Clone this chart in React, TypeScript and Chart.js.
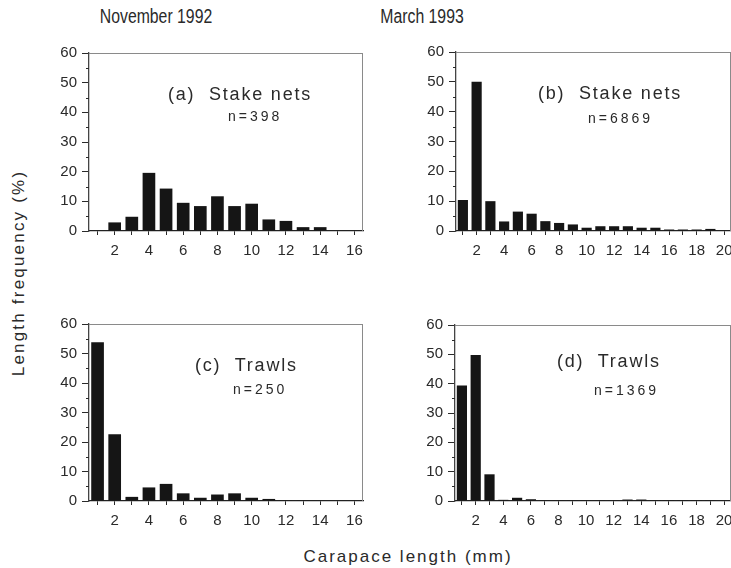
import React, { useEffect, useRef } from 'react';
import { Chart, registerables } from 'chart.js';

Chart.register(...registerables);

// ---------- data ----------
const novCategories = ['1', '2', '3', '4', '5', '6', '7', '8', '9', '10', '11', '12', '13', '14', '15', '16'];
const marCategories = ['1', '2', '3', '4', '5', '6', '7', '8', '9', '10', '11', '12', '13', '14', '15', '16', '17', '18', '19', '20'];

const novTickLabels = ['2', '4', '6', '8', '10', '12', '14', '16'];
const marTickLabels = ['2', '4', '6', '8', '10', '12', '14', '16', '18', '20'];

const novStakeNets = [0, 2.9, 4.8, 19.6, 14.3, 9.5, 8.4, 11.7, 8.4, 9.2, 3.9, 3.4, 1.3, 1.3, 0, 0];
const marStakeNets = [10.4, 50, 10, 3.2, 6.5, 5.8, 3.3, 2.7, 2.2, 1.1, 1.6, 1.6, 1.6, 1.1, 1.1, 0.5, 0.5, 0.5, 0.7, 0];
const novTrawls = [53.8, 22.6, 1.4, 4.6, 5.8, 2.6, 1.1, 2.2, 2.6, 1.1, 0.7, 0.2, 0.1, 0, 0, 0];
const marTrawls = [39.4, 49.8, 9.1, 0.4, 1.1, 0.6, 0.2, 0.2, 0.2, 0.2, 0.2, 0.2, 0.5, 0.5, 0.1, 0.1, 0.1, 0.1, 0.1, 0];

const yMajorTicks = [0, 10, 20, 30, 40, 50, 60];
const yMinorTicks = [5, 15, 25, 35, 45, 55];

const FONT = "'Liberation Sans', Arial, Helvetica, sans-serif";
const INK = '#2a2a2a';

type Area = { left: number; top: number; right: number; bottom: number };

const Y_W = 50;
const X_H = 34;
const PAD_T = 10;
const PAD_R = 16;

const framePlugin = {
  id: 'frame',
  afterDraw(chart: any) {
    const { ctx, chartArea } = chart;
    const { left, top, right, bottom } = chartArea;
    const y = chart.scales.y;
    ctx.save();
    ctx.strokeStyle = '#8a8a8a';
    ctx.lineWidth = 1;
    ctx.beginPath();
    ctx.moveTo(left, top + 0.5);
    ctx.lineTo(right, top + 0.5);
    ctx.moveTo(right - 0.5, top);
    ctx.lineTo(right - 0.5, bottom);
    ctx.stroke();
    ctx.strokeStyle = INK;
    ctx.beginPath();
    for (const v of yMinorTicks) {
      const py = Math.round(y.getPixelForValue(v)) + 0.5;
      ctx.moveTo(left - 3, py);
      ctx.lineTo(left, py);
    }
    ctx.stroke();
    ctx.restore();
  },
};

function Panel({ area, labels, values, shown }: { area: Area; labels: string[]; values: number[]; shown: string[] }) {
  const ref = useRef<HTMLCanvasElement | null>(null);
  const cLeft = area.left - Y_W;
  const cTop = area.top - PAD_T;
  const cW = area.right - cLeft + PAD_R;
  const cH = area.bottom - cTop + X_H;

  useEffect(() => {
    if (!ref.current) return;
    const chart = new Chart(ref.current, {
      type: 'bar',
      data: {
        labels,
        datasets: [
          {
            data: values,
            backgroundColor: '#151515',
            borderWidth: 0,
            barPercentage: 0.74,
            categoryPercentage: 1,
          },
        ],
      },
      options: {
        animation: false,
        responsive: false,
        maintainAspectRatio: false,
        devicePixelRatio: 1,
        layout: { padding: { left: 0, top: PAD_T, right: PAD_R, bottom: 0 } },
        plugins: { legend: { display: false }, tooltip: { enabled: false } },
        scales: {
          x: {
            type: 'category',
            offset: true,
            grid: {
              display: true,
              drawOnChartArea: false,
              offset: false,
              tickLength: 4,
              color: INK,
              tickColor: INK,
            },
            border: { display: true, color: '#222', width: 1.3 },
            ticks: {
              autoSkip: false,
              maxRotation: 0,
              minRotation: 0,
              padding: 7,
              color: INK,
              font: { family: FONT, size: 15 },
              callback: (_v: any, i: number) => (shown.includes(labels[i]) ? labels[i] : ''),
            },
            afterFit: (s: any) => {
              s.height = X_H;
            },
          },
          y: {
            min: 0,
            max: 60,
            afterBuildTicks: (s: any) => {
              s.ticks = yMajorTicks.map((v) => ({ value: v }));
            },
            grid: {
              display: true,
              drawOnChartArea: false,
              tickLength: 7,
              color: INK,
              tickColor: INK,
            },
            border: { display: true, color: '#444', width: 1.3 },
            ticks: {
              padding: 5,
              color: INK,
              font: { family: FONT, size: 15 },
            },
            afterFit: (s: any) => {
              s.width = Y_W;
            },
          },
        },
      } as any,
      plugins: [framePlugin],
    });
    return () => chart.destroy();
  }, []);

  return (
    <canvas
      ref={ref}
      width={cW}
      height={cH}
      style={{ position: 'absolute', left: cLeft, top: cTop, width: cW, height: cH }}
    />
  );
}

function Txt({ x, y, size, spacing, children, center, sx }: any) {
  return (
    <div
      style={{
        position: 'absolute',
        left: x,
        top: y,
        fontSize: size,
        lineHeight: '1',
        letterSpacing: spacing,
        whiteSpace: 'pre',
        color: INK,
        transformOrigin: center ? 'center center' : 'left center',
        transform: center
          ? `translate(-50%, -50%)${sx ? ` scaleX(${sx})` : ''}`
          : 'translate(0, -50%)',
      }}
    >
      {children}
    </div>
  );
}

export default function App() {
  return (
    <div
      style={{
        position: 'absolute',
        left: 0,
        top: 0,
        width: 731,
        height: 568,
        overflow: 'hidden',
        background: '#fff',
        fontFamily: FONT,
      }}
    >
      <Panel area={{ left: 89, top: 49, right: 363, bottom: 231 }} labels={novCategories} values={novStakeNets} shown={novTickLabels} />
      <Panel area={{ left: 456, top: 48, right: 731, bottom: 231 }} labels={marCategories} values={marStakeNets} shown={marTickLabels} />
      <Panel area={{ left: 89, top: 320, right: 363, bottom: 501 }} labels={novCategories} values={novTrawls} shown={novTickLabels} />
      <Panel area={{ left: 455, top: 321, right: 731, bottom: 501 }} labels={marCategories} values={marTrawls} shown={marTickLabels} />

      <Txt x={156} y={16} size={20} center sx={0.79}>November 1992</Txt>
      <Txt x={422} y={16} size={20} center sx={0.79}>March 1993</Txt>

      <Txt x={168} y={94} size={18} spacing="1.8px">{'(a)  Stake nets'}</Txt>
      <Txt x={228} y={116} size={14} spacing="3px">n=398</Txt>
      <Txt x={538} y={93} size={18} spacing="1.8px">{'(b)  Stake nets'}</Txt>
      <Txt x={588} y={118} size={14} spacing="3px">n=6869</Txt>
      <Txt x={195} y={365} size={18} spacing="1.8px">{'(c)  Trawls'}</Txt>
      <Txt x={233} y={389} size={14} spacing="3px">n=250</Txt>
      <Txt x={557} y={361} size={18} spacing="1.8px">{'(d)  Trawls'}</Txt>
      <Txt x={594} y={390} size={14} spacing="3px">n=1369</Txt>

      <div
        style={{
          position: 'absolute',
          left: 18,
          top: 273,
          fontSize: 17,
          lineHeight: '1',
          letterSpacing: '2.2px',
          whiteSpace: 'nowrap',
          color: INK,
          transform: 'translate(-50%, -50%) rotate(-90deg)',
        }}
      >
        Length frequency (%)
      </div>
      <Txt x={408} y={556} size={17} spacing="2px" center>Carapace length (mm)</Txt>
    </div>
  );
}
